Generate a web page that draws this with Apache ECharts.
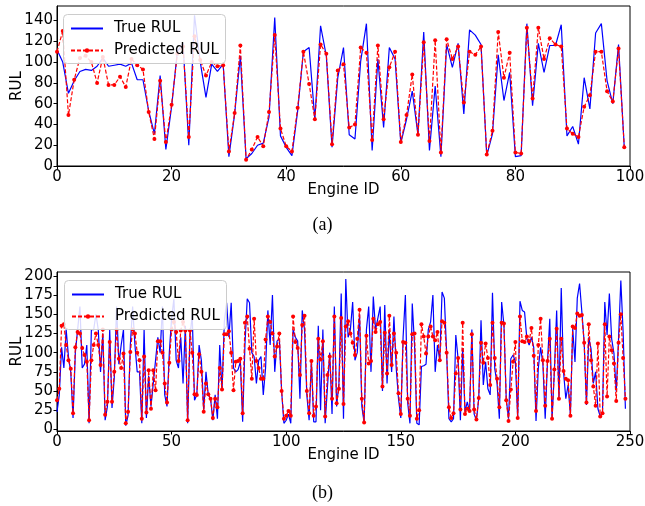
<!DOCTYPE html>
<html>
<head>
<meta charset="utf-8">
<script src="https://cdn.jsdelivr.net/npm/echarts@6/dist/echarts.min.js"></script>
<style>
  html, body { margin: 0; padding: 0; background: #fff; }
  #chart { width: 645px; height: 506px; }
</style>
</head>
<body>
<div id="chart"></div>
<script>
// (a) engines 0..99
const trueA = [
  112, 100, 70, 82, 91, 93, 92, 96, 104, 96,
  97, 98, 96, 99, 83, 83, 53, 31, 87, 16,
  57, 110, 118, 20, 145, 100, 66, 98, 91, 98,
  9, 50, 106, 7, 12, 20, 22, 47, 143, 29,
  18, 10, 53, 110, 114, 45, 135, 106, 18, 85,
  114, 30, 26, 101, 137, 15, 103, 37, 114, 103,
  22, 45, 72, 30, 129, 15, 77, 9, 117, 95,
  118, 50, 131, 126, 117, 10, 31, 107, 63, 90,
  9, 10, 137, 58, 118, 90, 116, 116, 136, 29,
  38, 21, 85, 55, 128, 137, 82, 60, 117, 18
];
const predA = [
  110, 130, 49, 83, 104, 106, 100, 80, 105, 78,
  78, 86, 76, 103, 97, 93, 52, 26, 82, 23,
  59, 108, 115, 28, 125, 102, 87, 100, 96, 97,
  14, 51, 116, 6, 16, 28, 19, 52, 126, 36,
  19, 14, 56, 110, 79, 45, 117, 108, 21, 92,
  98, 37, 40, 114, 109, 25, 116, 45, 95, 110,
  23, 49, 88, 30, 119, 24, 121, 13, 122, 103,
  115, 61, 110, 107, 115, 11, 34, 129, 85, 109,
  13, 12, 133, 65, 133, 103, 123, 117, 115, 36,
  31, 28, 57, 68, 110, 110, 72, 62, 113, 18
];

// (b) engines 0..248
const trueB = [
  23, 45, 107, 80, 130, 95, 75, 15, 100, 130,
  160, 80, 85, 110, 8, 130, 130, 150, 130, 75,
  125, 12, 30, 130, 28, 68, 160, 85, 110, 130,
  5, 18, 110, 160, 110, 75, 75, 8, 130, 15,
  70, 30, 60, 90, 120, 100, 160, 45, 30, 100,
  145, 170, 90, 80, 120, 60, 135, 8, 120, 150,
  38, 45, 110, 90, 25, 75, 45, 40, 12, 45,
  14, 110, 50, 140, 165, 120, 165, 80, 75, 78,
  88, 10, 110, 170, 165, 100, 95, 60, 90, 95,
  45, 80, 155, 110, 175, 75, 115, 118, 50, 8,
  12, 20, 8, 130, 120, 115, 40, 155, 130, 45,
  12, 90, 10, 10, 135, 25, 130, 8, 55, 100,
  20, 160, 30, 60, 177, 14, 196, 120, 130, 166,
  90, 100, 150, 30, 9, 130, 160, 75, 173, 130,
  145, 160, 50, 162, 60, 130, 75, 147, 80, 40,
  15, 120, 175, 35, 8, 164, 110, 8, 6, 82,
  83, 85, 130, 140, 175, 75, 110, 90, 179, 171,
  100, 14, 10, 14, 123, 92, 12, 106, 23, 36,
  23, 130, 20, 12, 40, 142, 58, 88, 53, 45,
  178, 79, 60, 14, 166, 136, 40, 14, 92, 97,
  88, 14, 167, 155, 153, 118, 110, 120, 107, 11,
  80, 107, 85, 14, 88, 144, 14, 75, 155, 40,
  184, 75, 40, 58, 19, 131, 88, 171, 190, 153,
  114, 32, 120, 105, 60, 75, 27, 17, 23, 166,
  123, 177, 118, 99, 49, 118, 194, 127, 27
];
const predB = [
  38, 53, 135, 137, 110, 90, 79, 21, 107, 127,
  125, 106, 97, 88, 12, 90, 110, 125, 110, 84,
  130, 19, 36, 114, 36, 75, 130, 92, 80, 99,
  8, 23, 101, 130, 125, 100, 90, 14, 95, 22,
  77, 27, 77, 51, 115, 115, 100, 60, 35, 87,
  130, 140, 127, 89, 129, 140, 129, 12, 129, 100,
  46, 45, 98, 75, 23, 60, 46, 40, 15, 40,
  29, 80, 52, 124, 124, 128, 100, 51, 88, 89,
  92, 21, 139, 147, 105, 66, 144, 89, 80, 66,
  66, 117, 147, 140, 125, 95, 108, 125, 50, 14,
  18, 24, 18, 147, 114, 106, 71, 136, 148, 50,
  21, 89, 18, 30, 118, 91, 115, 17, 71, 95,
  40, 147, 34, 53, 145, 33, 134, 141, 125, 113,
  97, 118, 156, 40, 9, 122, 86, 89, 144, 127,
  137, 140, 56, 126, 73, 148, 84, 125, 100, 47,
  20, 114, 113, 40, 18, 124, 125, 14, 25, 137,
  121, 99, 121, 134, 121, 116, 127, 90, 141, 139,
  100, 29, 15, 21, 73, 93, 26, 139, 20, 27,
  24, 124, 26, 13, 41, 113, 87, 112, 93, 58,
  139, 93, 66, 29, 139, 138, 38, 11, 52, 88,
  114, 15, 147, 115, 114, 121, 115, 132, 96, 24,
  110, 144, 90, 31, 89, 118, 14, 78, 131, 40,
  118, 76, 66, 64, 18, 134, 132, 151, 148, 149,
  113, 35, 137, 90, 56, 31, 112, 17, 21, 137,
  43, 121, 103, 86, 37, 113, 150, 93, 40
];

const xTicksA = [0, 20, 40, 60, 80, 100];
const yTicksA = [0, 20, 40, 60, 80, 100, 120, 140];
const xTicksB = [0, 50, 100, 150, 200, 250];
const yTicksB = [0, 25, 50, 75, 100, 125, 150, 175, 200];

const FONT = 'DejaVu Sans';
const chart = echarts.init(document.getElementById('chart'), null, { renderer: 'canvas' });

const xAxisFor = (gridIndex, max, ticks) => ({
  type: 'value', gridIndex, min: 0, max,
  name: 'Engine ID', nameLocation: 'middle', nameGap: 17, nameMoveOverlap: false,
  nameTextStyle: { fontFamily: FONT, fontSize: 15, color: '#000' },
  axisLine: { show: true, onZero: false, lineStyle: { color: '#000', width: 1 } },
  axisTick: { show: true, length: 3.5, customValues: ticks, lineStyle: { color: '#000' } },
  axisLabel: { customValues: ticks, margin: 4, fontFamily: FONT, fontSize: 15, color: '#000' },
  splitLine: { show: false }
});

const yAxisFor = (gridIndex, min, max, ticks) => ({
  type: 'value', gridIndex, min, max,
  name: 'RUL', nameLocation: 'middle', nameGap: 32, nameMoveOverlap: false,
  nameTextStyle: { fontFamily: FONT, fontSize: 15, color: '#000' },
  axisLine: { show: true, onZero: false, lineStyle: { color: '#000', width: 1 } },
  axisTick: { show: true, length: 3.5, customValues: ticks, lineStyle: { color: '#000' } },
  axisLabel: { customValues: ticks, margin: 4, fontFamily: FONT, fontSize: 15, color: '#000' },
  splitLine: { show: false }
});

const trueSeries = (idx, values) => ({
  name: 'True RUL', type: 'line', xAxisIndex: idx, yAxisIndex: idx,
  data: values.map((v, i) => [i, v]),
  symbol: 'none', showSymbol: false,
  lineStyle: { color: '#0000ff', width: 1.2 },
  itemStyle: { color: '#0000ff' },
  z: 2
});

const predSeries = (idx, values) => ({
  name: 'Predicted RUL', type: 'line', xAxisIndex: idx, yAxisIndex: idx,
  data: values.map((v, i) => [i, v]),
  symbol: 'circle', symbolSize: 4,
  lineStyle: { color: '#ff0000', width: 1.2, type: [4, 2] },
  itemStyle: { color: '#ff0000' },
  z: 3
});

const legendAt = (left, top) => ({
  orient: 'vertical', left, top, z: 30,
  data: [
    { name: 'True RUL', itemStyle: { opacity: 0 } },
    { name: 'Predicted RUL' }
  ],
  itemWidth: 32, itemHeight: 5.5, itemGap: 7,
  padding: [7, 6, 6, 7],
  textStyle: { fontFamily: FONT, fontSize: 15, lineHeight: 15, color: '#000', padding: [0, 0, 0, 6] },
  selectedMode: false
});

// legend frame (rounded, semi-opaque white)
const legendBox = (x, y) => ({
  type: 'rect', z: 25,
  shape: { x, y, width: 162, height: 49, r: 4 },
  style: { fill: 'rgba(255,255,255,0.85)', stroke: '#cccccc', lineWidth: 1 }
});

const option = {
  animation: false,
  backgroundColor: '#fff',
  grid: [
    { left: 57, right: 15, top: 6, height: 160, outerBoundsMode: 'none',
      show: true, borderColor: '#000', borderWidth: 1 },
    { left: 57, right: 15, top: 272, height: 159, outerBoundsMode: 'none',
      show: true, borderColor: '#000', borderWidth: 1 }
  ],
  xAxis: [xAxisFor(0, 100, xTicksA), xAxisFor(1, 250, xTicksB)],
  yAxis: [yAxisFor(0, 0, 154, yTicksA), yAxisFor(1, -2, 205, yTicksB)],
  legend: [legendAt(63, 14), legendAt(64, 280)],
  series: [
    trueSeries(0, trueA), predSeries(0, predA),
    trueSeries(1, trueB), predSeries(1, predB)
  ],
  graphic: [
    legendBox(63.5, 14.5),
    legendBox(64.5, 280.5),
    { type: 'text', left: 'center', top: 216,
      style: { text: '(a)', font: '18px "Liberation Serif"', fill: '#000' } },
    { type: 'text', left: 'center', top: 484,
      style: { text: '(b)', font: '18px "Liberation Serif"', fill: '#000' } }
  ]
};

chart.setOption(option);
</script>
</body>
</html>
